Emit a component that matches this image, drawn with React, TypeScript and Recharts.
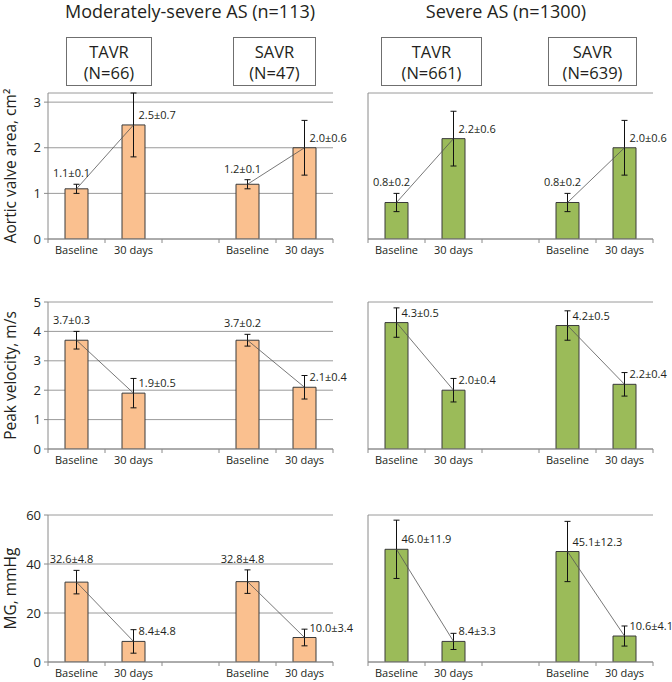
import React from "react";
import {
  ComposedChart,
  Bar,
  ErrorBar,
  Line,
  XAxis,
  YAxis,
  CartesianGrid,
  LabelList,
} from "recharts";

// x categories: TAVR baseline / 30 days, empty gap, SAVR baseline / 30 days
const categories = ["Baseline", "30 days", "", "Baseline", "30 days"];
const groups = ["TAVR", "SAVR"];
const moderateN = [66, 47];
const severeN = [661, 639];

// aortic valve area, cm²
const modAva = [1.1, 2.5, null, 1.2, 2.0];
const modAvaSd = [0.1, 0.7, null, 0.1, 0.6];
const sevAva = [0.8, 2.2, null, 0.8, 2.0];
const sevAvaSd = [0.2, 0.6, null, 0.2, 0.6];

// peak velocity, m/s
const modVel = [3.7, 1.9, null, 3.7, 2.1];
const modVelSd = [0.3, 0.5, null, 0.2, 0.4];
const sevVel = [4.3, 2.0, null, 4.2, 2.2];
const sevVelSd = [0.5, 0.4, null, 0.5, 0.4];

// mean gradient, mmHg
const modMg = [32.6, 8.4, null, 32.8, 10.0];
const modMgSd = [4.8, 4.8, null, 4.8, 3.4];
const sevMg = [46.0, 8.4, null, 45.1, 10.6];
const sevMgSd = [11.9, 3.3, null, 12.3, 4.1];

const avaTicks = [0, 1, 2, 3];
const velTicks = [0, 1, 2, 3, 4, 5];
const mgTicks = [0, 20, 40, 60];

const FONT = '"Open Sans", "Noto Sans", sans-serif';
const ORANGE = "#fac08f";
const GREEN = "#9bbb59";
const GRID = "#9a9a9a";
const AXIS = "#8a8a8a";
const TEXT = "#231f20";
const BAND = 57;

type Val = number | null;
type Row = { idx: number; cat: string; value: Val; err: Val };

function rows(values: Val[], sds: Val[]): Row[] {
  return categories.map((c, i) => ({ idx: i, cat: c, value: values[i], err: sds[i] }));
}

function CatTick(props: any) {
  const { x, y, payload } = props;
  const i = payload.value as number;
  const half = BAND / 2;
  return (
    <g>
      <line x1={x - half} x2={x - half} y1={y} y2={y + 4} stroke={AXIS} />
      {i === categories.length - 1 && (
        <line x1={x + half} x2={x + half} y1={y} y2={y + 4} stroke={AXIS} />
      )}
      <text x={x} y={y + 15} textAnchor="middle" fontSize={11} fill={TEXT} fontFamily={FONT}>
        {categories[i]}
      </text>
    </g>
  );
}

function makeLabel(data: Row[], baseAbove: boolean) {
  // LabelList only walks the bars that are drawn, so skip the empty gap slot
  const drawn = data.filter((d) => d.value != null);
  return (p: any) => {
    const vb = p.viewBox ?? p;
    const { x, y, width, height } = vb;
    const row: Row | undefined = p.payload && p.payload.idx != null ? p.payload : drawn[p.index];
    if (!row || row.value == null || row.err == null) return null;
    const cx = x + width / 2;
    const text = `${row.value.toFixed(1)}±${row.err.toFixed(1)}`;
    const isBase = row.idx === 0 || row.idx === 3;
    if (isBase && baseAbove) {
      const errTop = y - (row.err * height) / row.value;
      return (
        <text x={cx - 5} y={errTop - 7} textAnchor="middle" fontSize={11} fill={TEXT} fontFamily={FONT}>
          {text}
        </text>
      );
    }
    return (
      <text x={cx + 5} y={y - 6} textAnchor="start" fontSize={11} fill={TEXT} fontFamily={FONT}>
        {text}
      </text>
    );
  };
}

interface PanelProps {
  values: Val[];
  sds: Val[];
  domain: [number, number];
  ticks: number[];
  color: string;
  side: "left" | "right";
  top: number;
  height: number;
  xAxisHeight: number;
  baseAbove: boolean;
  yLabel?: string;
}

function Panel({ values, sds, domain, ticks, color, side, top, height, xAxisHeight, baseAbove, yLabel }: PanelProps) {
  const data = rows(values, sds);
  const isLeft = side === "left";
  return (
    <div style={{ position: "absolute", left: isLeft ? 0 : 340, top }}>
      <ComposedChart
        width={isLeft ? 360 : 332}
        height={height}
        data={data}
        margin={{ top: 10, right: isLeft ? 27 : 19, left: 0, bottom: 0 }}
        barCategoryGap={0}
      >
        <CartesianGrid vertical={false} stroke={GRID} />
        <XAxis
          dataKey="idx"
          type="category"
          interval={0}
          height={xAxisHeight}
          stroke={AXIS}
          tickLine={false}
          tickSize={0}
          tickMargin={0}
          tick={(p: any) => <CatTick {...p} />}
        />
        <YAxis
          domain={domain}
          ticks={ticks}
          allowDataOverflow
          width={isLeft ? 48 : 28}
          stroke={AXIS}
          tickSize={4}
          tickMargin={3}
          tick={isLeft ? { fill: TEXT, fontSize: 13, fontFamily: FONT } : false}
          label={
            yLabel
              ? {
                  value: yLabel,
                  angle: -90,
                  position: "insideLeft",
                  offset: 10,
                  style: { textAnchor: "middle", fontSize: 15.5, fill: TEXT, fontFamily: FONT },
                }
              : undefined
          }
        />
        <Bar dataKey="value" fill={color} stroke="#3a3a3a" strokeWidth={1} barSize={23} isAnimationActive={false}>
          <ErrorBar dataKey="err" width={3} stroke="#111" strokeWidth={1} direction="y" />
          <LabelList dataKey="value" content={makeLabel(data, baseAbove)} />
        </Bar>
        <Line
          dataKey="value"
          type="linear"
          stroke="#555"
          strokeWidth={0.8}
          dot={false}
          activeDot={false}
          isAnimationActive={false}
        />
      </ComposedChart>
    </div>
  );
}

function GroupBox({ name, n, left, width }: { name: string; n: number; left: number; width: number }) {
  return (
    <div
      style={{
        position: "absolute",
        left,
        top: 37,
        width,
        height: 49,
        boxSizing: "border-box",
        border: "1px solid #6f6f6f",
        background: "#fff",
        display: "flex",
        flexDirection: "column",
        justifyContent: "center",
        alignItems: "center",
        fontSize: 16.5,
        lineHeight: "21px",
        color: TEXT,
      }}
    >
      <div>{name}</div>
      <div>(N={n})</div>
    </div>
  );
}

const titleStyle: React.CSSProperties = {
  position: "absolute",
  top: 0,
  textAlign: "center",
  fontSize: 18,
  lineHeight: "22px",
  color: TEXT,
};

export default function App() {
  return (
    <div
      style={{
        position: "absolute",
        left: 0,
        top: 0,
        width: 672,
        height: 682,
        background: "#fff",
        fontFamily: FONT,
        overflow: "hidden",
      }}
    >
      <div style={{ ...titleStyle, left: 0, width: 380 }}>Moderately-severe AS (n=113)</div>
      <div style={{ ...titleStyle, left: 340, width: 332 }}>Severe AS (n=1300)</div>

      <GroupBox name={groups[0]} n={moderateN[0]} left={66} width={86} />
      <GroupBox name={groups[1]} n={moderateN[1]} left={233} width={83} />
      <GroupBox name={groups[0]} n={severeN[0]} left={381} width={101} />
      <GroupBox name={groups[1]} n={severeN[1]} left={548} width={89} />

      <Panel values={modAva} sds={modAvaSd} domain={[0, 3.2]} ticks={avaTicks} color={ORANGE} side="left"
        top={83} height={181} xAxisHeight={25} baseAbove yLabel="Aortic valve area, cm²" />
      <Panel values={sevAva} sds={sevAvaSd} domain={[0, 3.2]} ticks={avaTicks} color={GREEN} side="right"
        top={83} height={181} xAxisHeight={25} baseAbove />

      <Panel values={modVel} sds={modVelSd} domain={[0, 5]} ticks={velTicks} color={ORANGE} side="left"
        top={292} height={182} xAxisHeight={25} baseAbove yLabel="Peak velocity, m/s" />
      <Panel values={sevVel} sds={sevVelSd} domain={[0, 5]} ticks={velTicks} color={GREEN} side="right"
        top={292} height={182} xAxisHeight={25} baseAbove={false} />

      <Panel values={modMg} sds={modMgSd} domain={[0, 60]} ticks={mgTicks} color={ORANGE} side="left"
        top={505} height={177} xAxisHeight={20} baseAbove yLabel="MG, mmHg" />
      <Panel values={sevMg} sds={sevMgSd} domain={[0, 60]} ticks={mgTicks} color={GREEN} side="right"
        top={505} height={177} xAxisHeight={20} baseAbove={false} />
    </div>
  );
}
